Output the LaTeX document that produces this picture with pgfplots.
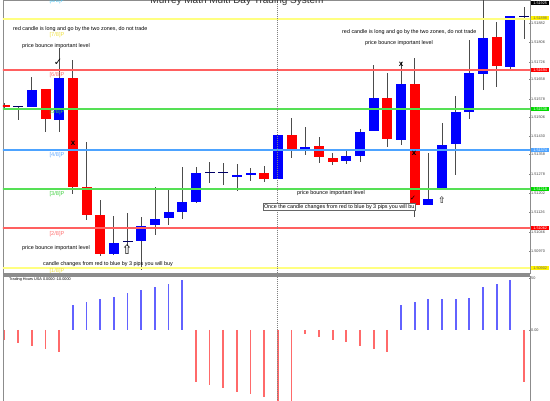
\documentclass[border=0pt]{standalone}
\usepackage{pgfplots}
\pgfplotsset{compat=1.18}
\usepackage{pgfplotstable}
\usepackage{fontspec}
\setmainfont{Liberation Sans}
\newfontfamily\sym{DejaVu Sans}
\definecolor{cBlue}{HTML}{0000FF}
\definecolor{cRed}{HTML}{FF0000}
\definecolor{lYel}{HTML}{FFFF80}
\definecolor{lRed}{HTML}{FF6060}
\definecolor{lGrn}{HTML}{55E055}
\definecolor{lBlu}{HTML}{4DA3FF}
\definecolor{hBlu}{HTML}{6262FF}
\definecolor{hRed}{HTML}{FF6A6A}
\definecolor{mYel}{HTML}{EEE040}
\definecolor{mPnk}{HTML}{FF7070}
\definecolor{mGrn}{HTML}{40D040}
\definecolor{mBlu}{HTML}{60A8FF}
\newcommand\ann{\fontsize{5.4}{6}\selectfont}
\newcommand\mlab{\fontsize{5.6}{6}\selectfont}
\newcommand\tlab{\fontsize{3.8}{4}\selectfont}

% bullish candles: index, open, high, low, close
\pgfplotstableread{
i o h l c
3 1.51546 1.51666 1.51546 1.51614
5 1.51494 1.51782 1.51446 1.51662
9 1.50958 1.51110 1.50954 1.51002
11 1.51010 1.51106 1.50894 1.51070
12 1.51074 1.51226 1.51034 1.51098
13 1.51102 1.51218 1.51074 1.51126
14 1.51126 1.51306 1.51098 1.51166
15 1.51166 1.51306 1.51162 1.51282
18 1.51266 1.51318 1.51210 1.51274
19 1.51274 1.51302 1.51250 1.51282
21 1.51258 1.51434 1.51258 1.51434
23 1.51370 1.51466 1.51354 1.51386
26 1.51330 1.51370 1.51318 1.51350
27 1.51350 1.51458 1.51326 1.51446
28 1.51450 1.51714 1.51450 1.51582
30 1.51414 1.51726 1.51394 1.51638
32 1.51154 1.51362 1.51154 1.51178
33 1.51214 1.51482 1.51214 1.51394
34 1.51398 1.51590 1.51274 1.51526
35 1.51526 1.51814 1.51498 1.51682
36 1.51678 1.51994 1.51614 1.51822
38 1.51706 1.51910 1.51690 1.51910
}\bull
% bearish candles
\pgfplotstableread{
i o h l c
1 1.51554 1.51562 1.51538 1.51546
4 1.51618 1.51618 1.51446 1.51498
6 1.51662 1.51734 1.51198 1.51226
7 1.51226 1.51406 1.51094 1.51114
8 1.51114 1.51174 1.50950 1.50958
20 1.51282 1.51310 1.51246 1.51258
22 1.51434 1.51502 1.51342 1.51370
24 1.51390 1.51426 1.51322 1.51346
25 1.51342 1.51362 1.51314 1.51326
29 1.51582 1.51682 1.51386 1.51418
31 1.51638 1.51742 1.51106 1.51154
37 1.51826 1.51886 1.51626 1.51710
}\bear
% doji candles
\pgfplotstableread{
i o h l c
2 1.51546 1.51546 1.51494 1.51546
10 1.51006 1.51122 1.50990 1.51006
16 1.51282 1.51326 1.51242 1.51282
17 1.51282 1.51322 1.51234 1.51282
39 1.51906 1.51946 1.51818 1.51906
}\doji
% Trading hours histogram
\pgfplotstableread{
i v
6 24.0
7 26.9
8 29.8
9 31.7
10 35.6
11 38.5
12 41.3
13 44.2
14 48.1
30 24.0
31 26.9
32 29.8
33 29.8
34 29.8
35 30.8
36 41.3
37 44.2
38 48.1
}\hbull
\pgfplotstableread{
i v
1 -9.6
2 -12.5
3 -15.4
4 -18.3
5 -21.2
15 -50.0
16 -52.9
17 -55.8
18 -59.6
19 -61.5
20 -64.4
21 -90.0
22 -90.0
23 -3.8
24 -6.7
25 -9.6
26 -11.5
27 -15.4
28 -18.3
29 -21.2
39 -50.0
}\hbear

\begin{document}
\begin{tikzpicture}
\useasboundingbox (0pt,0pt) rectangle (550pt,400pt);
\begin{axis}[at={(3pt,127pt)}, anchor=south west, scale only axis,
  width=527pt, height=273pt,
  xmin=0.89, xmax=39.44, ymin=1.50882, ymax=1.51974,
  axis line style={black!45, line width=0.6pt},
  xtick=\empty,
  ytick={1.50970,1.51046,1.51126,1.51202,1.51278,1.51358,1.51430,1.51506,1.51578,1.51658,1.51726,1.51806,1.51882},
  ytick pos=right, yticklabel pos=right,
  scaled y ticks=false,
  yticklabel style={font=\tlab, text=black!75, inner sep=1pt,
    /pgf/number format/.cd, fixed, precision=5, zerofill, assume math mode=true},
  major tick length=1.5pt, tick style={black!50},
  clip=true]
% wicks
\addplot[draw=none, mark=none, forget plot, error bars/.cd, y dir=plus, y explicit, error mark=none,
  error bar style={line width=0.75pt, draw=black!70}]
  table[x=i, y=l, y error plus expr=\thisrow{h}-\thisrow{l}] {\bull};
\addplot[draw=none, mark=none, forget plot, error bars/.cd, y dir=plus, y explicit, error mark=none,
  error bar style={line width=0.75pt, draw=black!70}]
  table[x=i, y=l, y error plus expr=\thisrow{h}-\thisrow{l}] {\bear};
\addplot[draw=none, mark=none, forget plot, error bars/.cd, y dir=plus, y explicit, error mark=none,
  error bar style={line width=0.75pt, draw=black!70}]
  table[x=i, y=l, y error plus expr=\thisrow{h}-\thisrow{l}] {\doji};
% bodies
\addplot[draw=none, mark=none, forget plot, error bars/.cd, y dir=plus, y explicit, error mark=none,
  error bar style={line width=10pt, draw=cBlue}]
  table[x=i, y=o, y error plus expr=\thisrow{c}-\thisrow{o}] {\bull};
\addplot[draw=none, mark=none, forget plot, error bars/.cd, y dir=plus, y explicit, error mark=none,
  error bar style={line width=10pt, draw=cRed}]
  table[x=i, y=c, y error plus expr=\thisrow{o}-\thisrow{c}] {\bear};
\addplot[only marks, mark=-, mark size=5pt, mark options={line width=1pt, draw=blue!40!black}]
  table[x=i, y=o] {\doji};
% Murrey levels
\addplot[lYel, line width=1.6pt] coordinates {(0.5,1.51898) (40,1.51898)};
\addplot[lRed, line width=1.6pt] coordinates {(0.5,1.51694) (40,1.51694)};
\addplot[lGrn, line width=1.6pt] coordinates {(0.5,1.51538) (40,1.51538)};
\addplot[lBlu, line width=1.6pt] coordinates {(0.5,1.51374) (40,1.51374)};
\addplot[lGrn, line width=1.6pt] coordinates {(0.5,1.51218) (40,1.51218)};
\addplot[lRed, line width=1.6pt] coordinates {(0.5,1.51062) (40,1.51062)};
\addplot[lYel, line width=1.6pt] coordinates {(0.5,1.50902) (40,1.50902)};
\addplot[black!50, line width=0.5pt, dash pattern=on 1pt off 1pt] coordinates {(20.95,1.50) (20.95,1.53)};
\end{axis}

\begin{axis}[at={(3pt,-30pt)}, anchor=south west, scale only axis,
  width=527pt, height=154pt,
  xmin=0.89, xmax=39.44, ymin=-96.15, ymax=51.92,
  axis line style={black!45, line width=0.6pt},
  xtick=\empty, ytick={0,50}, yticklabels={0.00,50},
  ytick pos=right, yticklabel pos=right,
  yticklabel style={font=\tlab, text=black!75, inner sep=1pt},
  major tick length=1.5pt, tick style={black!50},
  clip=true]
\addplot[ycomb, hBlu, line width=1.8pt, mark=none] table[x=i, y=v] {\hbull};
\addplot[ycomb, hRed, line width=1.8pt, mark=none] table[x=i, y=v] {\hbear};
\addplot[black!50, line width=0.5pt, dash pattern=on 1pt off 1pt] coordinates {(20.95,-200) (20.95,100)};
\end{axis}

\node[font=\mlab, text=mYel] at (57pt,129pt) {[1/8]P};
\fill[black!45] (2.7pt,124pt) rectangle (530.3pt,127pt);

% title (cut by the top edge, as in the screenshot)
\node[anchor=base, font=\fontsize{10}{12}\selectfont, text=black!80] at (237pt,396pt) {Murrey Math Multi Day Trading System};
\node[anchor=base, font=\mlab, text=cyan!70] at (57pt,397pt) {[8/8]P};

% Murrey labels
\node[font=\mlab, text=mYel] at (57pt,365pt) {[7/8]P};
\node[font=\mlab, text=mPnk] at (57pt,325pt) {[6/8]P};
\node[font=\mlab, text=mGrn] at (57pt,288pt) {[5/8]P};
\node[font=\mlab, text=mBlu] at (57pt,245pt) {[4/8]P};
\node[font=\mlab, text=mGrn] at (57pt,206pt) {[3/8]P};
\node[font=\mlab, text=mPnk] at (57pt,166pt) {[2/8]P};

% annotations
\node[anchor=west, font=\ann, inner sep=0pt] at (13pt,371pt) {red candle is long and go by the two zones, do not trade};
\node[anchor=west, font=\ann, inner sep=0pt] at (22pt,354pt) {price bounce important level};
\node[font=\sym\fontsize{10}{10}\selectfont, inner sep=0pt] at (58pt,338pt) {✓};
\node[font=\bfseries\fontsize{8}{8}\selectfont, inner sep=0pt] at (73pt,257pt) {x};
\node[anchor=west, font=\ann, inner sep=0pt] at (22pt,152pt) {price bounce important level};
\node[font=\sym\fontsize{13}{13}\selectfont, inner sep=0pt] at (127pt,150pt) {⇧};
\node[anchor=west, font=\ann, inner sep=0pt] at (43pt,136pt) {candle changes from red to blue by 3 pips you will buy};
\node[anchor=west, font=\ann, inner sep=0pt] at (342pt,368pt) {red candle is long and go by the two zones, do not trade};
\node[anchor=west, font=\ann, inner sep=0pt] at (365pt,357pt) {price bounce important level};
\node[font=\bfseries\fontsize{8}{8}\selectfont, inner sep=0pt] at (401pt,336pt) {x};
\node[font=\bfseries\fontsize{8}{8}\selectfont, inner sep=0pt] at (414pt,247pt) {x};
\node[font=\sym\fontsize{7}{7}\selectfont, inner sep=0pt] at (413pt,202pt) {✓};
\node[font=\sym\fontsize{9}{9}\selectfont, inner sep=0pt] at (442pt,200pt) {⇧};
\node[anchor=west, font=\ann, inner sep=0pt] at (297pt,207pt) {price bounce important level};
\node[anchor=west, font=\ann, draw=black!60, fill=white, inner sep=0.8pt] at (263pt,193pt) {Once the candle changes from red to blue by 3 pips you will bu};
\node[anchor=west, font=\tlab, inner sep=0pt] at (9pt,120pt) {Trading Hours USA 0.0000 -10.0000};

% price boxes on the right scale
\node[anchor=west, font=\tlab, fill=black, text=white, inner sep=0.6pt, minimum width=18pt] at (531pt,397pt) {1.51925};
\node[anchor=west, font=\tlab, fill=yellow, text=black!60, inner sep=0.6pt, minimum width=18pt] at (531pt,382pt) {1.51898};
\node[anchor=west, font=\tlab, fill=red, text=white, inner sep=0.6pt, minimum width=18pt] at (531pt,330pt) {1.51694};
\node[anchor=west, font=\tlab, fill=green!85!black, text=white, inner sep=0.6pt, minimum width=18pt] at (531pt,291pt) {1.51538};
\node[anchor=west, font=\tlab, fill=lBlu, text=white, inner sep=0.6pt, minimum width=18pt] at (531pt,250pt) {1.51374};
\node[anchor=west, font=\tlab, fill=green!85!black, text=white, inner sep=0.6pt, minimum width=18pt] at (531pt,211pt) {1.51218};
\node[anchor=west, font=\tlab, fill=red, text=white, inner sep=0.6pt, minimum width=18pt] at (531pt,172pt) {1.51062};
\node[anchor=west, font=\tlab, fill=yellow, text=black!60, inner sep=0.6pt, minimum width=18pt] at (531pt,132pt) {1.50902};
\end{tikzpicture}
\end{document}
